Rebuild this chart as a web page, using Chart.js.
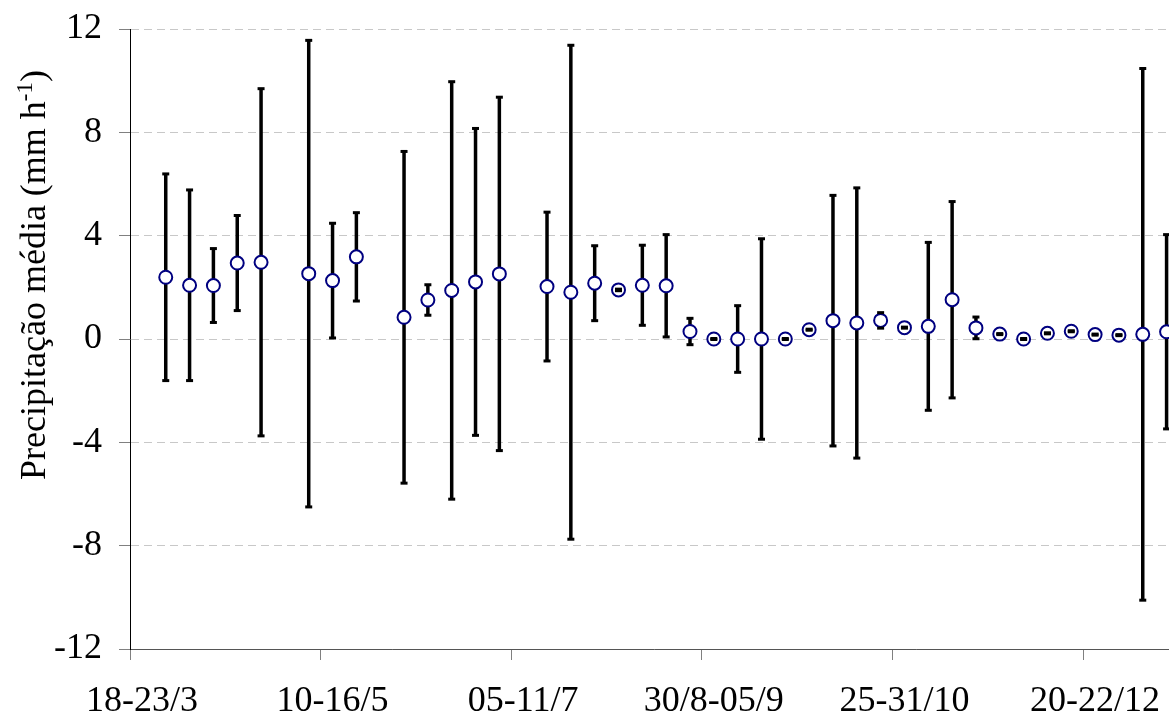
<!DOCTYPE html>
<html>
<head>
<meta charset="utf-8">
<script src="https://cdn.jsdelivr.net/npm/chart.js@4/dist/chart.umd.min.js"></script>
<style>
  html, body { margin: 0; padding: 0; background: #fff; overflow: hidden; }
  #wrap { position: relative; width: 1187px; height: 717px; }
</style>
</head>
<body>
<div id="wrap"><canvas id="chart" width="1187" height="717"></canvas></div>
<script>
// Weekly periods (one slot per week); only every 8th period carries a label.
const tickLabels = ['18-23/3', '10-16/5', '05-11/7', '30/8-05/9', '25-31/10', '20-22/12'];
const labelEvery = 8;

// Mean precipitation (mm h-1) per period; null where no data.
const meanValues = [
  null, 2.39, 2.08, 2.07, 2.94, 2.97, null, 2.53,
  2.26, 3.18, null, 0.84, 1.51, 1.88, 2.21, 2.52,
  null, 2.03, 1.81, 2.16, 1.90, 2.08, 2.06, 0.29,
  0.00, 0.00, 0.00, 0.00, 0.36, 0.71, 0.62, 0.72,
  0.44, 0.49, 1.52, 0.43, 0.19, 0.00, 0.22, 0.30,
  0.17, 0.15, 0.18, 0.28
];

// Standard deviation for each period (symmetric error bars).
const sdValues = [
  null, 4.00, 3.69, 1.43, 1.84, 6.72, null, 9.03,
  2.22, 1.71, null, 6.42, 0.59, 8.08, 5.94, 6.84,
  null, 2.88, 9.56, 1.45, 0.03, 1.55, 1.98, 0.51,
  0.02, 1.29, 3.88, 0.02, 0.02, 4.85, 5.23, 0.30,
  0.02, 3.25, 3.80, 0.42, 0.02, 0.02, 0.02, 0.02,
  0.02, 0.02, 10.29, 3.76
];

const yTitle = 'Precipitação média (mm h';
const yTitleSup = '-1';
const yTitleEnd = ')';

const categories = meanValues.map((_, i) =>
  i % labelEvery === 0 ? (tickLabels[i / labelEvery] || '') : '');

const serif = "'Liberation Serif', 'Times New Roman', serif";

// Vertical error bars behind the markers, caps on top of them.
const errorBars = {
  id: 'errorBars',
  beforeDatasetsDraw(chart) {
    const { ctx, scales: { x, y } } = chart;
    ctx.save();
    ctx.strokeStyle = '#000';
    ctx.lineWidth = 3.5;
    ctx.lineCap = 'butt';
    meanValues.forEach((m, i) => {
      if (m === null || sdValues[i] === null) return;
      const px = x.getPixelForValue(i);
      ctx.beginPath();
      ctx.moveTo(px, y.getPixelForValue(m + sdValues[i]));
      ctx.lineTo(px, y.getPixelForValue(m - sdValues[i]));
      ctx.stroke();
    });
    ctx.restore();
  },
  afterDatasetsDraw(chart) {
    const { ctx, scales: { x, y } } = chart;
    ctx.save();
    ctx.strokeStyle = '#000';
    ctx.lineWidth = 3;
    meanValues.forEach((m, i) => {
      if (m === null || sdValues[i] === null) return;
      const px = x.getPixelForValue(i);
      [m + sdValues[i], m - sdValues[i]].forEach(v => {
        const py = y.getPixelForValue(v);
        ctx.beginPath();
        ctx.moveTo(px - 3.5, py);
        ctx.lineTo(px + 3.5, py);
        ctx.stroke();
      });
    });
    ctx.restore();
  }
};

// Rotated y-axis title with a superscript exponent.
const yAxisTitle = {
  id: 'yAxisTitle',
  afterDraw(chart) {
    const { ctx } = chart;
    ctx.save();
    ctx.translate(45, 275);
    ctx.rotate(-Math.PI / 2);
    ctx.fillStyle = '#000';
    ctx.textBaseline = 'alphabetic';
    const mainFont = '36px ' + serif;
    const supFont = '23px ' + serif;
    ctx.font = mainFont;
    const wMain = ctx.measureText(yTitle).width;
    const wEnd = ctx.measureText(yTitleEnd).width;
    ctx.font = supFont;
    const wSup = ctx.measureText(yTitleSup).width;
    let xs = -(wMain + wSup + wEnd) / 2;
    ctx.font = mainFont;
    ctx.fillText(yTitle, xs, 0);
    xs += wMain;
    ctx.font = supFont;
    ctx.fillText(yTitleSup, xs, -13);
    xs += wSup;
    ctx.font = mainFont;
    ctx.fillText(yTitleEnd, xs, 0);
    ctx.restore();
  }
};

new Chart(document.getElementById('chart'), {
  type: 'line',
  data: {
    labels: categories,
    datasets: [{
      data: meanValues,
      showLine: false,
      pointRadius: 6.5,
      pointHoverRadius: 6.5,
      pointBorderWidth: 2,
      pointBorderColor: '#000080',
      pointBackgroundColor: '#ffffff'
    }]
  },
  options: {
    responsive: false,
    animation: false,
    events: [],
    layout: { padding: { top: 29, right: 0, bottom: 0, left: 0 } },
    plugins: {
      legend: { display: false },
      tooltip: { enabled: false }
    },
    scales: {
      x: {
        type: 'category',
        offset: true,
        grid: {
          offset: true,
          drawOnChartArea: false,
          drawTicks: true,
          tickLength: 11,
          tickWidth: 1,
          tickColor: c => (c.index % labelEvery === 0 ? '#808080' : 'rgba(0,0,0,0)')
        },
        border: { display: true, color: '#555555', width: 1 },
        ticks: {
          autoSkip: false,
          maxRotation: 0,
          minRotation: 0,
          padding: 20,
          color: '#000',
          font: { family: serif, size: 36 }
        },
        afterFit: s => { s.height = 68; }
      },
      y: {
        min: -12,
        max: 12,
        grid: {
          color: '#c8c8c8',
          lineWidth: 1,
          drawTicks: true,
          tickLength: 11,
          tickColor: '#808080',
          tickBorderDash: []
        },
        border: { display: true, color: '#000', width: 1, dash: [8, 5] },
        ticks: {
          stepSize: 4,
          padding: 17,
          color: '#000',
          font: { family: serif, size: 36 }
        },
        afterFit: s => { s.width = 130; s.paddingTop = 0; s.paddingBottom = 0; }
      }
    }
  },
  plugins: [errorBars, yAxisTitle]
});
</script>
</body>
</html>
